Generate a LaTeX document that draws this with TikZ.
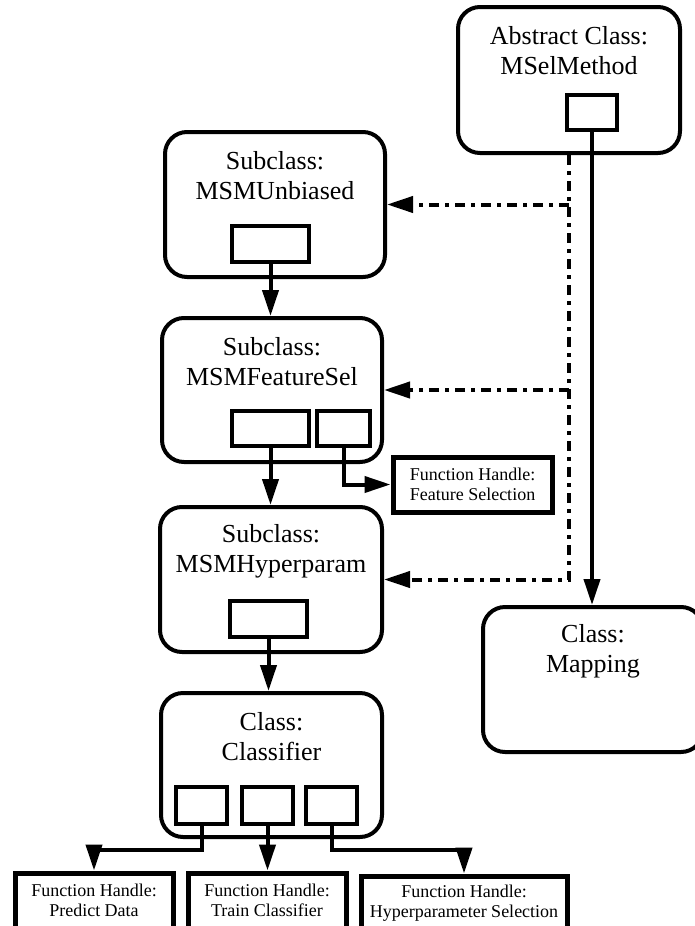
\documentclass[tikz,border=0pt]{standalone}
\usepackage{fontspec}
\setmainfont{Liberation Serif}
\usetikzlibrary{arrows.meta}
\begin{document}
\begin{tikzpicture}[x=1pt,y=-1pt,
  cls/.style={draw,line width=4pt,rounded corners=22pt,minimum width=#1,minimum height=145pt,inner sep=0pt},
  slot/.style={draw,line width=4pt,minimum width=#1,minimum height=35pt,inner sep=0pt},
  handle/.style={draw,line width=5pt,minimum width=#1,minimum height=55pt,align=center,
    font=\fontsize{18}{20}\selectfont,inner sep=0pt},
  title/.style={align=center,font=\fontsize{26}{30}\selectfont,inner sep=0pt},
  link/.style={line width=4pt,-{Triangle[length=26pt,width=16pt]}},
  inherit/.style={link,dash pattern=on 10pt off 6pt on 4pt off 6pt}]
\useasboundingbox (0,0) rectangle (694,926);

% class boxes
\node[cls=222pt,minimum height=146pt] (abs) at (569,80) {};
\node[cls=220pt] (ub) at (275,204.5) {};
\node[cls=220pt,minimum height=144pt] (fs) at (272,390) {};
\node[cls=222pt] (hp) at (271,579.5) {};
\node[cls=221pt,minimum height=144pt] (cl) at (271.5,765) {};
\node[cls=220pt] (map) at (593,679.5) {};

% titles
\node[title] (absT) at ([yshift=-46pt]abs.north) {Abstract Class:\\MSelMethod};
\node[title] (ubT) at ([yshift=-46pt]ub.north) {Subclass:\\MSMUnbiased};
\node[title] (fsT) at ([yshift=-46pt]fs.north) {Subclass:\\MSMFeatureSel};
\node[title] (hpT) at ([yshift=-46pt]hp.north) {Subclass:\\MSMHyperparam};
\node[title] (clT) at ([yshift=-46pt]cl.north) {Class:\\Classifier};
\node[title] (mapT) at ([yshift=-46pt]map.north) {Class:\\Mapping};

% member slots
\node[slot=50pt] (absS) at (592,112.5) {};
\node[slot=77pt,minimum height=36pt] (ubS) at (270.5,244) {};
\node[slot=77pt] (fsS1) at (270.5,428.5) {};
\node[slot=53pt] (fsS2) at (343.5,428.5) {};
\node[slot=77pt,minimum height=36pt] (hpS) at (268.5,619) {};
\node[slot=51pt,minimum height=37pt] (clS1) at (201.5,805.5) {};
\node[slot=51pt,minimum height=37pt] (clS2) at (267.5,805.5) {};
\node[slot=51pt,minimum height=37pt] (clS3) at (331.5,805.5) {};

% function handles
\node[handle=159pt] (ffs) at (472.5,484.5) {Function Handle:\\Feature Selection};
\node[handle=158pt] (fpd) at (94,900.5) {Function Handle:\\Predict Data};
\node[handle=158pt] (ftc) at (267,900.5) {Function Handle:\\Train Classifier};
\node[handle=206pt] (fhs) at (464,903.5) {Function Handle:\\Hyperparameter Selection};

% inheritance
\draw[inherit] (abs.south) |- (hp.east);
\draw[inherit] (abs.south |- ub.east) -- (ub.east);
\draw[inherit] (abs.south |- fs.east) -- (fs.east);

% composition links
\draw[link] (absS.south) -- (absS.south |- map.north);
\draw[link] (ubS.south) -- (ubS.south |- fs.north);
\draw[link] (fsS1.south) -- (fsS1.south |- hp.north);
\draw[link] (fsS2.south) |- (ffs.west);
\draw[link] (hpS.south) -- (hpS.south |- cl.north);
\coordinate (bus) at ([yshift=-11pt]cl.south);
\draw[link] (clS1.south) -- (clS1.south |- bus) -| (fpd.north);
\draw[link] (clS2.south) -- (clS2.south |- ftc.north);
\draw[link] (clS3.south) -- (clS3.south |- bus) -| (fhs.north);
\end{tikzpicture}
\end{document}
